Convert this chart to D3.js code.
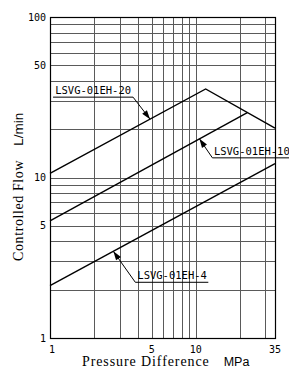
<!DOCTYPE html>
<html lang="en">
<head>
  <meta charset="UTF-8">
  <title>Controlled Flow vs Pressure Difference</title>
  <style>
    body { margin: 0; background: #fff; }
    svg { display: block; }
    .tick-label { font-family: "DejaVu Sans Mono", monospace; font-size: 10px; fill: #000; }
    .title-serif { font-family: "Liberation Serif", "Times New Roman", serif; fill: #000; }
    .title-sans { font-family: "Liberation Sans", Arial, sans-serif; fill: #000; }
    .note { font-family: "DejaVu Sans Mono", monospace; font-size: 10.5px; fill: #000; }
  </style>
</head>
<body>
<div id="chart"></div>
<script src="https://d3js.org/d3.v7.min.js"></script>
<script>
  // tick labels and grid positions
  const xTicks = [1, 5, 10, 35];
  const yTicks = [1, 5, 10, 50, 100];
  const xGrid = [2, 3, 4, 5, 6, 7, 8, 9, 10, 20, 30];
  const yGrid = [2, 3, 4, 5, 6, 7, 8, 9, 10, 20, 30, 40, 50, 60, 70, 80, 90];

  // series: [pressure MPa, flow L/min]
  const flow20 = [[1, 10.6], [11.7, 35.6], [35, 20.3]];
  const flow10 = [[1, 5.36], [22.6, 25.4]];
  const flow4 = [[1, 2.12], [35, 12.2]];

  const seriesNames = ["LSVG-01EH-20", "LSVG-01EH-10", "LSVG-01EH-4"];
  // pressure where each leader arrow touches its line
  const arrowAt = [4.86, 10.6, 2.72];

  const W = 289, H = 372;
  const margin = { top: 17, right: 14, bottom: 34, left: 50 };

  const svg = d3.select("#chart").append("svg")
    .attr("width", W)
    .attr("height", H);

  const x = d3.scaleLog().domain([1, 35]).range([margin.left, W - margin.right]);
  const y = d3.scaleLog().domain([1, 100]).range([H - margin.bottom, margin.top]);

  // grid
  const grid = svg.append("g").attr("stroke", "#5a5a5a").attr("stroke-width", 1);
  grid.selectAll("line.v").data(xGrid).enter().append("line")
    .attr("x1", d => Math.round(x(d)) + 0.5).attr("x2", d => Math.round(x(d)) + 0.5)
    .attr("y1", y(100)).attr("y2", y(1));
  grid.selectAll("line.h").data(yGrid).enter().append("line")
    .attr("y1", d => Math.round(y(d)) + 0.5).attr("y2", d => Math.round(y(d)) + 0.5)
    .attr("x1", x(1)).attr("x2", x(35));

  // frame
  svg.append("rect")
    .attr("x", Math.round(x(1)) + 0.5).attr("y", Math.round(y(100)) + 0.5)
    .attr("width", Math.round(x(35)) - Math.round(x(1)))
    .attr("height", Math.round(y(1)) - Math.round(y(100)))
    .attr("fill", "none").attr("stroke", "#000").attr("stroke-width", 1.2);

  // tick labels
  svg.selectAll("text.xt").data(xTicks).enter().append("text")
    .attr("class", "tick-label")
    .attr("x", d => x(d) + (d === 1 ? 2 : 0))
    .attr("y", y(1) + 15)
    .attr("text-anchor", "middle")
    .text(d => d);

  svg.selectAll("text.yt").data(yTicks).enter().append("text")
    .attr("class", "tick-label")
    .attr("x", x(1) - 4)
    .attr("y", d => y(d) + 3.5)
    .attr("text-anchor", "end")
    .text(d => d);

  // series lines
  const line = d3.line().x(d => x(d[0])).y(d => y(d[1]));
  const series = [flow20, flow10, flow4];
  svg.selectAll("path.series").data(series).enter().append("path")
    .attr("d", line)
    .attr("fill", "none")
    .attr("stroke", "#000")
    .attr("stroke-width", 1.4);

  // flow value on a straight log-log segment
  function flowAt(data, p) {
    for (let i = 0; i < data.length - 1; i++) {
      const a = data[i], b = data[i + 1];
      if (p >= a[0] && p <= b[0]) {
        const t = Math.log(p / a[0]) / Math.log(b[0] / a[0]);
        return Math.exp(Math.log(a[1]) + t * Math.log(b[1] / a[1]));
      }
    }
    return data[data.length - 1][1];
  }

  // leader lines with labels: elbow offset from tip, underline length
  const notes = [
    { dx: -17, dy: -22, len: -80, textDx: -2 },
    { dx: 13, dy: 19, len: 90, textDx: 1.5 },
    { dx: 22, dy: 31, len: 73, textDx: 2 }
  ];

  notes.forEach((n, i) => {
    const tx = x(arrowAt[i]);
    const ty = y(flowAt(series[i], arrowAt[i]));
    const ex = tx + n.dx, ey = ty + n.dy;
    svg.append("polyline")
      .attr("points", [[tx, ty], [ex, ey], [ex + n.len, ey]].map(p => p.join(",")).join(" "))
      .attr("fill", "none").attr("stroke", "#000").attr("stroke-width", 1);

    // arrowhead
    const ang = Math.atan2(ey - ty, ex - tx);
    const L = 9, w = 3;
    const bx = tx + L * Math.cos(ang), by = ty + L * Math.sin(ang);
    const head = [
      [tx, ty],
      [bx - w * Math.sin(ang), by + w * Math.cos(ang)],
      [bx + w * Math.sin(ang), by - w * Math.cos(ang)]
    ];
    svg.append("polygon")
      .attr("points", head.map(p => p.join(",")).join(" "))
      .attr("fill", "#000");

    svg.append("text")
      .attr("class", "note")
      .attr("x", ex + n.textDx)
      .attr("y", ey - 3)
      .attr("text-anchor", n.len < 0 ? "end" : "start")
      .text(seriesNames[i]);
  });

  // axis titles
  const yt = svg.append("text")
    .attr("transform", "translate(23, 261) rotate(-90)")
    .attr("text-anchor", "start");
  yt.append("tspan").attr("class", "title-serif")
    .style("font-size", "14px").style("letter-spacing", "0.6px")
    .text("Controlled Flow");
  yt.append("tspan").attr("class", "title-sans")
    .style("font-size", "13.5px").attr("dx", 14).text("L/min");

  const xt = svg.append("text")
    .attr("x", 82).attr("y", 366)
    .attr("text-anchor", "start");
  xt.append("tspan").attr("class", "title-serif")
    .style("font-size", "14px").style("letter-spacing", "0.9px")
    .text("Pressure Difference");
  xt.append("tspan").attr("class", "title-sans")
    .style("font-size", "12.5px").attr("dx", 14).text("MPa");
</script>
</body>
</html>
